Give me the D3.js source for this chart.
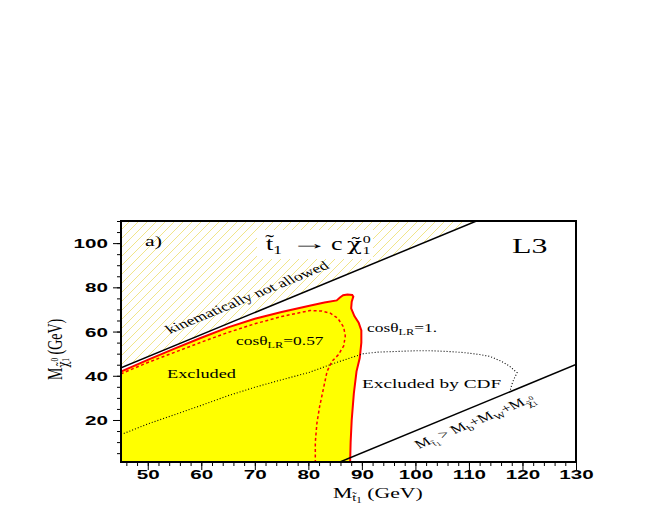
<!DOCTYPE html>
<html><head><meta charset="utf-8">
<script src="https://cdn.jsdelivr.net/npm/d3@7"></script>
<style>body{margin:0;background:#fff}svg{display:block}</style>
</head><body><svg id="c" width="654" height="518"></svg>
<script>
// ---------- data ----------
const xTicks = [50, 60, 70, 80, 90, 100, 110, 120, 130];
const yTicks = [20, 40, 60, 80, 100];
const xMinor = d3.range(46, 131, 2);
const yMinor = d3.range(5, 111, 5);
const xDomain = [45, 130];
const yDomain = [1, 110];
// M_chi = M_stop - M_c  (kinematic limit)
const kinematicLine = [[45, 43.6], [111.4, 110]];
// M_chi = M_stop - M_b - M_W
const threeBodyLine = [[85.9, 1], [130, 45.1]];
// excluded region, cos(theta_LR)=1 (solid red)
const excludedSolid = [[45, 41.9], [50, 47.2], [55, 52.3], [60, 57.2], [65, 61.9], [70, 65.8], [75, 68.8],
  [80, 71.6], [83, 73.1], [85.3, 74.1], [85.9, 75.4], [86.5, 76.4], [87.3, 76.7], [88.2, 76.5], [88.4, 75.8],
  [88.1, 73.5], [88.0, 70.5], [88.6, 67.0], [89.4, 64.0], [89.9, 60.5], [89.9, 55.0], [89.6, 48.0],
  [89.0, 42.0], [88.5, 32.0], [88.1, 20.0], [87.9, 10.0], [87.8, 1]];
// cos(theta_LR)=0.57 (dashed red)
const excludedDashed = [[45, 1], [45, 40.9], [50, 46.0], [55, 50.6], [60, 55.2], [65, 59.6], [70, 63.5], [75, 66.8],
  [78.5, 68.6], [80.3, 69.5], [82.5, 69.3], [84.1, 68.3], [85.5, 66.0], [86.6, 62.0], [86.9, 58.0], [86.6, 53.5],
  [85.6, 49.5], [84.4, 46.5], [83.5, 42.0], [82.8, 34.0], [82.1, 26.0], [81.6, 18.6], [81.3, 10.0], [81.3, 1], [45, 1]];
// CDF exclusion (dotted black)
const cdfDotted = [[45, 13.4], [50, 18.2], [55, 22.4], [60, 26.6], [65, 31.0], [70, 34.8], [75, 38.2], [80, 41.4],
  [85, 45.8], [88, 48.2], [90.3, 50.0], [93, 50.7], [96.5, 51.0], [100, 51.3], [103, 51.3], [106, 51.0],
  [109, 50.5], [112, 49.6], [114, 48.7], [116, 46.6], [117.5, 44.5], [119, 41.4], [118.4, 38.5], [118, 36], [117.7, 33.2]];

// ---------- setup ----------
const svg = d3.select('#c');
const X0 = 121, X1 = 576, Y0 = 462, Y1 = 221;
const x = d3.scaleLinear().domain(xDomain).range([X0, X1]);
const y = d3.scaleLinear().domain(yDomain).range([Y0, Y1]);
const SX = 1.45; // horizontal stretch of the original picture
const serif = "'Liberation Serif','Times New Roman',serif";
const sans = "'Liberation Sans',Arial,sans-serif";

const defs = svg.append('defs');
const pat = defs.append('pattern').attr('id', 'hatch').attr('patternUnits', 'userSpaceOnUse')
  .attr('width', 9).attr('height', 9);
pat.append('path').attr('d', 'M-1,1 l2,-2 M0,9 l9,-9 M8,10 l2,-2')
  .attr('stroke', '#efe27c').attr('stroke-width', 0.9);
defs.append('clipPath').attr('id', 'clip').append('rect')
  .attr('x', X0).attr('y', Y1).attr('width', X1 - X0).attr('height', Y0 - Y1);

const line = d3.line().x(d => x(d[0])).y(d => y(d[1]));
const plot = svg.append('g').attr('clip-path', 'url(#clip)');

// hatched kinematically forbidden region
plot.append('path')
  .attr('d', line([kinematicLine[0], kinematicLine[1], [xDomain[0], yDomain[1]]]) + 'Z')
  .attr('fill', 'url(#hatch)');
// white box behind title
plot.append('rect').attr('x', 257).attr('y', 230).attr('width', 116).attr('height', 29).attr('fill', '#fff');

// yellow excluded region
plot.append('path')
  .attr('d', line([[xDomain[0], yDomain[0]], ...excludedSolid]) + 'Z')
  .attr('fill', '#ffff00');

// dashed 0.57
plot.append('path').attr('d', line(excludedDashed)).attr('fill', 'none')
  .attr('stroke', '#ff0000').attr('stroke-width', 1.5).attr('stroke-dasharray', '3,2.5');
// solid red
plot.append('path').attr('d', line(excludedSolid)).attr('fill', 'none')
  .attr('stroke', '#ff0000').attr('stroke-width', 2);
// CDF dotted
plot.append('path').attr('d', line(cdfDotted)).attr('fill', 'none')
  .attr('stroke', '#000').attr('stroke-width', 1.1).attr('stroke-dasharray', '1,2');
// kinematic lines
plot.append('path').attr('d', line(kinematicLine)).attr('stroke', '#000').attr('stroke-width', 1.5).attr('fill', 'none');
plot.append('path').attr('d', line(threeBodyLine)).attr('stroke', '#000').attr('stroke-width', 1.5).attr('fill', 'none');

// ---------- axes ----------
function styleAxis(g) {
  g.select('.domain').remove();
  g.selectAll('line').attr('stroke', '#000').attr('stroke-width', 1);
}
const TS = 12.5, TSX = 1.65;
const xAxisMinor = svg.append('g').attr('transform', `translate(0,${Y0})`)
  .call(d3.axisBottom(x).tickValues(xMinor).tickSize(4).tickFormat(''));
styleAxis(xAxisMinor);
const xAxis = svg.append('g').attr('transform', `translate(0,${Y0})`)
  .call(d3.axisBottom(x).tickValues(xTicks).tickSize(8).tickFormat(d3.format('d')));
styleAxis(xAxis);
xAxis.selectAll('text').attr('y', 17).attr('dy', 0)
  .attr('font-family', sans).attr('font-weight', 'bold').attr('font-size', TS).attr('fill', '#000')
  .attr('transform', `scale(${TSX},1)`);

const yAxisMinor = svg.append('g').attr('transform', `translate(${X0},0)`)
  .call(d3.axisLeft(y).tickValues(yMinor).tickSize(4).tickFormat(''));
styleAxis(yAxisMinor);
const yAxis = svg.append('g').attr('transform', `translate(${X0},0)`)
  .call(d3.axisLeft(y).tickValues(yTicks).tickSize(8).tickFormat(d3.format('d')));
styleAxis(yAxis);
yAxis.selectAll('text').attr('x', -13 / TSX).attr('dy', '0.36em')
  .attr('font-family', sans).attr('font-weight', 'bold').attr('font-size', TS).attr('fill', '#000')
  .attr('transform', `scale(${TSX},1)`);

// frame
svg.append('rect').attr('x', X0).attr('y', Y1).attr('width', X1 - X0).attr('height', Y0 - Y1)
  .attr('fill', 'none').attr('stroke', '#000').attr('stroke-width', 2);

// ---------- text ----------
function rich(px, py, angle, size, parts) {
  const g = svg.append('g').attr('transform', `translate(${px},${py}) scale(${SX},1) rotate(${angle})`);
  const t = g.append('text').attr('font-family', serif).attr('font-size', size).attr('fill', '#000');
  parts.forEach(p => {
    const s = t.append('tspan').text(p.t);
    if (p.size) s.attr('font-size', p.size);
    if (p.dy) s.attr('dy', p.dy);
    if (p.dx) s.attr('dx', p.dx);
    if (p.font) s.attr('font-family', p.font);
  });
  return g;
}
const slopeAngle = -Math.atan(SX * (y(0) - y(1)) / (x(1) - x(0))) * 180 / Math.PI;

rich(145, 246, 0, 15, [{t: 'a)'}]);
rich(512, 253, 0, 22, [{t: 'L3'}]);

// title  t~1 -> c chi~0_1
rich(266, 250, 0, 18, [{t: 't\u0303'}, {t: '1', size: 12, dy: 4}]);
rich(291, 249, 0, 18, [{t: '→'}]).select('text').attr('textLength', 26).attr('lengthAdjust', 'spacingAndGlyphs');
rich(331, 250, 0, 18, [{t: 'c'}]);
rich(347, 250, 0, 17, [{t: 'χ\u0303', font: "'DejaVu Serif',serif"}, {t: '0', size: 11, dx: 0.5, dy: -7},
  {t: '1', size: 11, dx: -5.6, dy: 11}]);

rich(170, 334, slopeAngle, 12.4, [{t: 'kinematically not allowed'}]);
rich(236, 345, 0, 12, [{t: 'cosθ'}, {t: 'LR', size: 8.5, dy: 3}, {t: '=0.57', dy: -3}]);
rich(367, 332, 0, 12, [{t: 'cosθ'}, {t: 'LR', size: 8.5, dy: 3}, {t: '=1.', dy: -3}]);
rich(167, 378, 0, 12.6, [{t: 'Excluded'}]);
rich(362, 388, 0, 13.3, [{t: 'Excluded by CDF'}]);
rich(419, 449, slopeAngle, 12, [
  {t: 'M'}, {t: 't\u0303', size: 7.5, dy: 3}, {t: '1', size: 6, dy: 1.5}, {t: ' > M', dy: -4.5},
  {t: 'b', size: 8.5, dy: 3}, {t: '+M', dy: -3}, {t: 'W', size: 8.5, dy: 3}, {t: '+M', dy: -3},
  {t: 'χ\u0303', size: 7.5, dy: 3, font: "'DejaVu Serif',serif"}, {t: '0', size: 6, dy: -5}, {t: '1', size: 6, dy: 6, dx: -3.2}]);

// axis titles
rich(62, 380, -90, 14, [
  {t: 'M'}, {t: 'χ\u0303', size: 10, dy: 4, font: "'DejaVu Serif',serif"}, {t: '0', size: 7.5, dy: -7},
  {t: '1', size: 7.5, dy: 8, dx: -4}, {t: ' (GeV)', dy: -5}]);
rich(333, 498, 0, 15, [{t: 'M'}, {t: 't\u0303', size: 10, dy: 3}, {t: '1', size: 7.5, dy: 2},
  {t: ' (GeV)', dy: -5}]);
</script></body></html>
